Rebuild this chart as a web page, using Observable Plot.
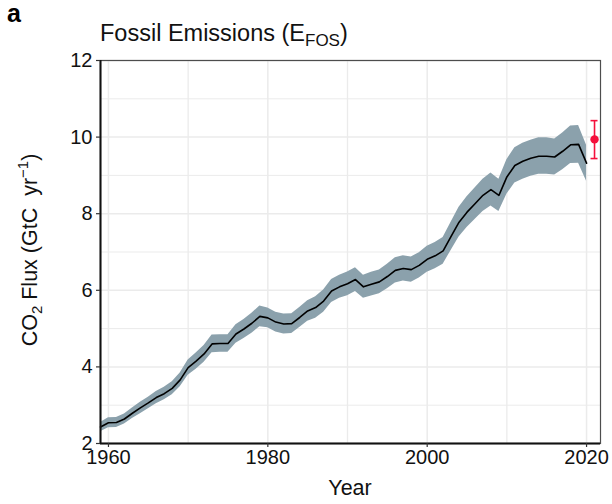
<!DOCTYPE html>
<html>
<head>
<meta charset="utf-8">
<script src="https://cdn.jsdelivr.net/npm/d3@7"></script>
<script src="https://cdn.jsdelivr.net/npm/@observablehq/plot@0.6"></script>
<style>
  html, body { margin: 0; padding: 0; background: #fff; }
  #chart { width: 612px; height: 504px; }
</style>
</head>
<body>
<div id="chart"></div>
<script>
// ---- data ----
const years = [1959,1960,1961,1962,1963,1964,1965,1966,1967,1968,1969,
  1970,1971,1972,1973,1974,1975,1976,1977,1978,1979,
  1980,1981,1982,1983,1984,1985,1986,1987,1988,1989,
  1990,1991,1992,1993,1994,1995,1996,1997,1998,1999,
  2000,2001,2002,2003,2004,2005,2006,2007,2008,2009,
  2010,2011,2012,2013,2014,2015,2016,2017,2018,2019,2020];
const emissions = [2.43,2.54,2.55,2.64,2.79,2.93,3.06,3.20,3.30,3.44,3.66,
  3.98,4.15,4.34,4.60,4.61,4.61,4.86,4.99,5.14,5.32,
  5.28,5.17,5.12,5.13,5.29,5.46,5.55,5.72,5.98,6.09,
  6.17,6.28,6.09,6.16,6.22,6.36,6.52,6.57,6.54,6.65,
  6.81,6.90,7.03,7.41,7.78,8.04,8.26,8.48,8.63,8.48,
  8.96,9.26,9.37,9.45,9.50,9.50,9.48,9.63,9.80,9.81,9.32];
const emissionsLow = [2.31,2.41,2.42,2.51,2.65,2.78,2.91,3.04,3.14,3.27,3.48,
  3.78,3.94,4.12,4.37,4.38,4.38,4.62,4.74,4.88,5.05,
  5.02,4.91,4.86,4.87,5.03,5.19,5.27,5.43,5.68,5.79,
  5.86,5.97,5.79,5.85,5.91,6.04,6.19,6.24,6.21,6.32,
  6.47,6.56,6.68,7.04,7.39,7.64,7.85,8.06,8.20,8.06,
  8.51,8.80,8.90,8.98,9.03,9.03,9.01,9.15,9.31,9.32,8.85];
const emissionsHigh = [2.55,2.67,2.68,2.77,2.93,3.08,3.21,3.36,3.47,3.61,3.84,
  4.18,4.36,4.56,4.83,4.84,4.84,5.10,5.24,5.40,5.59,
  5.54,5.43,5.38,5.39,5.55,5.73,5.83,6.01,6.28,6.39,
  6.48,6.59,6.39,6.47,6.53,6.68,6.85,6.90,6.87,6.98,
  7.15,7.25,7.38,7.78,8.17,8.44,8.67,8.90,9.06,8.90,
  9.41,9.72,9.84,9.92,9.98,9.98,9.95,10.11,10.29,10.30,9.79];
const projYear = [2021];
const projValue = [9.94];
const projLow = [9.44];
const projHigh = [10.43];

const yTicks = [2,4,6,8,10,12];
const yMinor = [3,5,7,9,11];
const xTicks = [1960,1980,2000,2020];
const xMinor = [1970,1990,2010];
const xDomain = [1959, 2021.75];
const yDomain = [2, 12];

// ---- tables ----
const series = years.map((y, i) => ({year: y, value: emissions[i], lo: emissionsLow[i], hi: emissionsHigh[i]}));
const proj = projYear.map((y, i) => ({year: y, value: projValue[i], lo: projLow[i], hi: projHigh[i]}));

const fontFamily = "'Liberation Sans', Arial, Helvetica, sans-serif";

const chart = Plot.plot({
  width: 612,
  height: 504,
  marginLeft: 100,
  marginRight: 12,
  marginTop: 60,
  marginBottom: 61,
  style: {fontFamily, fontSize: "20px", color: "#1a1a1a", background: "#fff"},
  x: {domain: xDomain, label: null},
  y: {domain: yDomain, label: null},
  marks: [
    Plot.gridY(yMinor, {stroke: "#ebebeb", strokeOpacity: 1, strokeWidth: 1}),
    Plot.gridX(xMinor, {stroke: "#ebebeb", strokeOpacity: 1, strokeWidth: 1.3}),
    Plot.gridY(yTicks, {stroke: "#ebebeb", strokeOpacity: 1, strokeWidth: 1.5}),
    Plot.gridX(xTicks, {stroke: "#ebebeb", strokeOpacity: 1, strokeWidth: 1.5}),
    Plot.areaY(series, {x: "year", y1: "lo", y2: "hi", fill: "#8ba1ac", fillOpacity: 1}),
    Plot.line(series, {x: "year", y: "value", stroke: "#000", strokeWidth: 1.6}),
    Plot.ruleX(proj, {x: "year", y1: "lo", y2: "hi", stroke: "#f5103c", strokeWidth: 1.6}),
    Plot.ruleY(proj, {y: "lo", x1: "year", x2: "year", insetLeft: -3.5, insetRight: -3.5, stroke: "#f5103c", strokeWidth: 1.6}),
    Plot.ruleY(proj, {y: "hi", x1: "year", x2: "year", insetLeft: -3.5, insetRight: -3.5, stroke: "#f5103c", strokeWidth: 1.6}),
    Plot.dot(proj, {x: "year", y: "value", r: 4.2, fill: "#f5103c", stroke: "none"}),
    Plot.frame({stroke: "#4d4d4d", strokeWidth: 1.2}),
    Plot.ruleY([yDomain[0]], {stroke: "#111", strokeWidth: 2}),
    Plot.ruleX([xDomain[0]], {stroke: "#111", strokeWidth: 2}),
    Plot.axisY(yTicks, {tickSize: 4, tickPadding: 4, stroke: "#333", strokeWidth: 1.2, fill: "#111", fontSize: 20}),
    Plot.axisX(xTicks, {tickSize: 4, tickPadding: 2, stroke: "#333", strokeWidth: 1.2, fill: "#111", fontSize: 20, tickFormat: d => String(d)})
  ]
});

document.getElementById("chart").appendChild(chart);

// ---- text annotations with sub/superscripts ----
const svg = d3.select(chart);
const txt = svg.append("g").attr("font-family", fontFamily).attr("fill", "#111").attr("text-anchor", "start");

txt.append("text").attr("x", 7).attr("y", 22).attr("text-anchor", "start")
  .attr("font-size", 25).attr("font-weight", "bold").attr("fill", "#000").text("a");

const title = txt.append("text").attr("x", 100).attr("y", 41).attr("text-anchor", "start").attr("font-size", 23.5);
title.append("tspan").text("Fossil Emissions (E");
title.append("tspan").attr("font-size", 17).attr("dy", 4.5).text("FOS");
title.append("tspan").attr("dy", -4.5).text(")");

txt.append("text").attr("x", 350).attr("y", 495)
  .attr("font-size", 21.5).attr("text-anchor", "middle").text("Year");

const yl = txt.append("text")
  .attr("transform", "translate(37,250) rotate(-90)")
  .attr("font-size", 21.5).attr("text-anchor", "middle");
yl.append("tspan").text("CO");
yl.append("tspan").attr("font-size", 15).attr("dy", 5).text("2");
yl.append("tspan").attr("dy", -5).text(" Flux (GtC  yr");
yl.append("tspan").attr("font-size", 15).attr("dy", -9).text("\u22121");
yl.append("tspan").attr("dy", 9).text(")");
</script>
</body>
</html>
